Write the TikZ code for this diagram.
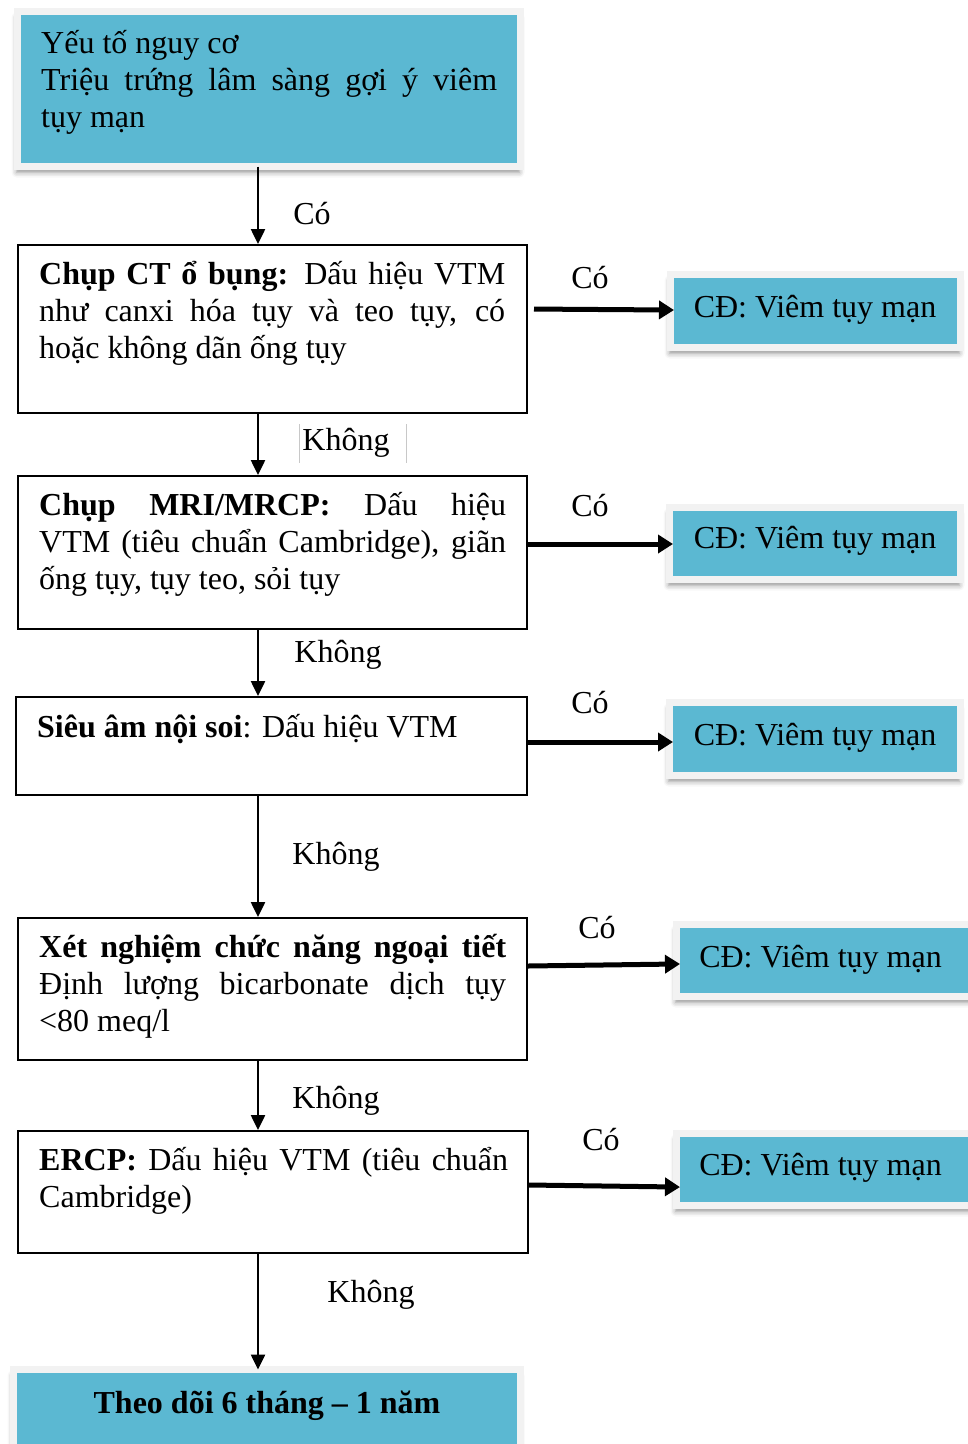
\documentclass[tikz,border=0pt]{standalone}
\usepackage{fontspec}
\setmainfont{Liberation Serif}
\usetikzlibrary{arrows.meta,shadows.blur}

\definecolor{cdblue}{RGB}{91,184,210}
\definecolor{cdframe}{RGB}{242,242,242}
\definecolor{faintline}{RGB}{200,200,200}

\tikzset{
  bluebox/.style={rectangle, fill=cdblue, draw=cdframe, line width=7pt,
    inner sep=0pt, outer sep=0pt,
    blur shadow={shadow xshift=-1pt, shadow yshift=-6pt,
      shadow blur radius=5pt, shadow opacity=42}},
  stepbox/.style={rectangle, draw=black, line width=2pt, fill=white,
    inner sep=0pt},
  body/.style={anchor=base west, inner sep=0pt,
    font=\fontsize{32}{37}\selectfont},
  lbl/.style={anchor=base, inner sep=0pt,
    font=\fontsize{32}{37}\selectfont},
  down/.style={line width=2.5pt, -{Triangle[length=15pt,width=14pt]}},
  yes/.style={line width=5pt, shorten >=-3.5pt,
    -{Triangle[length=15pt,width=18pt]}},
}

\begin{document}
\begin{tikzpicture}[x=1pt,y=-1pt]
\useasboundingbox (0,0) rectangle (968,1444);
\clip (0,0) rectangle (968,1444);

% ---- coloured boxes ----
\node[bluebox, minimum width=503pt, minimum height=155pt] (top) at (269,89) {};
\node[bluebox, minimum width=290pt, minimum height=73pt] (cd1) at (815.5,311) {};
\node[bluebox, minimum width=291pt, minimum height=72pt] (cd2) at (815,543.5) {};
\node[bluebox, minimum width=291pt, minimum height=73pt] (cd3) at (815,739) {};
\node[bluebox, minimum width=313.5pt, minimum height=72pt] (cd4) at (833.25,960.5) {};
\node[bluebox, minimum width=313.5pt, minimum height=72pt] (cd5) at (833.25,1169.5) {};
\node[bluebox, minimum width=507pt, minimum height=100.5pt] (fin) at (267,1419.75) {};

% ---- decision steps ----
\node[stepbox, minimum width=509pt, minimum height=168pt] (b2) at (272.5,329) {};
\node[stepbox, minimum width=509pt, minimum height=153pt] (b3) at (272.5,552.5) {};
\node[stepbox, minimum width=511pt, minimum height=98pt]  (b4) at (271.5,746) {};
\node[stepbox, minimum width=509pt, minimum height=142pt] (b5) at (272.5,989) {};
\node[stepbox, minimum width=510pt, minimum height=122pt] (b6) at (273,1192) {};

% ---- box texts ----
\node[body] (t1) at (41,53) {\parbox[t]{456pt}{%
  Yếu tố nguy cơ\par
  \makebox[456pt][s]{Triệu trứng lâm sàng gợi ý viêm}\par
  tụy mạn}};
\node[body] (t2) at (39,284) {\parbox[t]{466pt}{%
  \makebox[466pt][s]{\textbf{Chụp CT ổ bụng:} Dấu hiệu VTM}\par
  \makebox[466pt][s]{như canxi hóa tụy và teo tụy, có}\par
  hoặc không dãn ống tụy}};
\node[body] (t3) at (39,515) {\parbox[t]{467pt}{%
  \makebox[467pt][s]{\textbf{Chụp MRI/MRCP:} Dấu hiệu}\par
  \makebox[467pt][s]{VTM (tiêu chuẩn Cambridge), giãn}\par
  ống tụy, tụy teo, sỏi tụy}};
\node[body] (t4) at (37,737) {\textbf{Siêu âm nội soi}: Dấu hiệu VTM};
\node[body] (t5) at (39,957) {\parbox[t]{467pt}{%
  \makebox[467pt][s]{\textbf{Xét nghiệm chức năng ngoại tiết}}\par
  \makebox[467pt][s]{Định lượng bicarbonate dịch tụy}\par
  <80 meq/l}};
\node[body] (t6) at (39,1170) {\parbox[t]{469pt}{%
  \makebox[469pt][s]{\textbf{ERCP:} Dấu hiệu VTM (tiêu chuẩn}\par
  Cambridge)}};
\node[lbl, font=\fontsize{32}{37}\selectfont\bfseries] (t7) at (267,1413)
  {Theo dõi 6 tháng – 1 năm};

\node[lbl] (c1) at (815,317) {CĐ: Viêm tụy mạn};
\node[lbl] (c2) at (815,548) {CĐ: Viêm tụy mạn};
\node[lbl] (c3) at (815,745) {CĐ: Viêm tụy mạn};
\node[lbl] (c4) at (820.5,967) {CĐ: Viêm tụy mạn};
\node[lbl] (c5) at (820.5,1175) {CĐ: Viêm tụy mạn};

% ---- arrows down the main column ----
\draw[down] (top.south -| 258,0) -- (b2.north -| 258,0);
\draw[down] (b2.south -| 258,0) -- (b3.north -| 258,0);
\draw[down] (b3.south -| 258,0) -- (b4.north -| 258,0);
\draw[down] (b4.south -| 258,0) -- (b5.north -| 258,0);
\draw[down] (b5.south -| 258,0) -- (b6.north -| 258,0);
\draw[down] (b6.south -| 258,0) -- (fin.north -| 258,0);

% ---- arrows to the diagnosis boxes ----
\draw[yes, shorten <=6pt] (b2.east |- 0,309) -- (cd1.west |- 0,310);
\draw[yes] (b3.east |- 0,544) -- (cd2.west |- 0,544);
\draw[yes] (b4.east |- 0,742) -- (cd3.west |- 0,742);
\draw[yes] (b5.east |- 0,966) -- (cd4.west |- 0,964);
\draw[yes] (b6.east |- 0,1185) -- (cd5.west |- 0,1187);

% ---- branch labels ----
\node[lbl] (y1) at (312,224) {Có};
\node[lbl] (y2) at (590,288) {Có};
\node[lbl] (y3) at (590,516) {Có};
\node[lbl] (y4) at (590,713) {Có};
\node[lbl] (y5) at (597,938) {Có};
\node[lbl] (y6) at (601,1150) {Có};

\node[lbl] (n1) at (346,450) {Không};
\node[lbl] (n2) at (338,662) {Không};
\node[lbl] (n3) at (336,864) {Không};
\node[lbl] (n4) at (336,1108) {Không};
\node[lbl] (n5) at (371,1302) {Không};

% thin edges of the first "Không" text frame
\draw[faintline, line width=0.8pt] (299,424) -- (299,463) (406,424) -- (406,463);
\end{tikzpicture}
\end{document}
